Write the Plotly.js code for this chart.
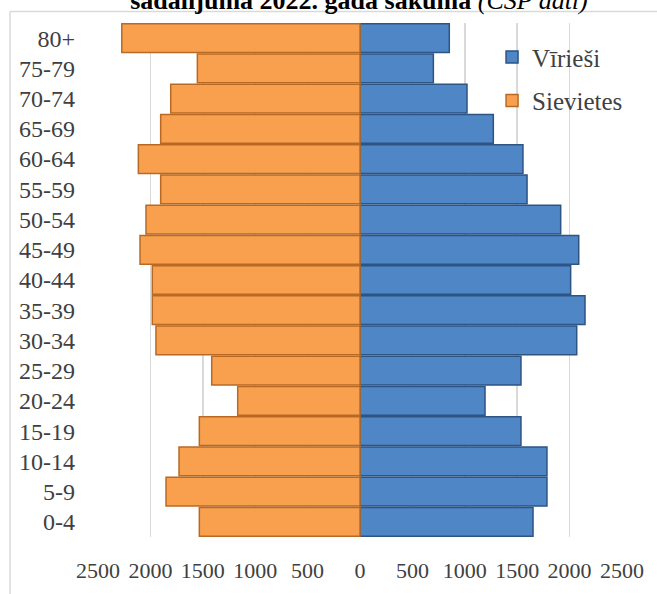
<!DOCTYPE html>
<html><head><meta charset="utf-8">
<script src="https://cdn.plot.ly/plotly-3.0.1.min.js"></script>
<style>html,body{margin:0;padding:0;background:#fff;}#chart{width:657px;height:594px;}</style>
</head><body><div id="chart"></div>
<script>
const ageGroups = ['0-4','5-9','10-14','15-19','20-24','25-29','30-34','35-39','40-44','45-49','50-54','55-59','60-64','65-69','70-74','75-79','80+'];
const men   = [1651,1784,1784,1536,1193,1536,2068,2147,2010,2087,1915,1594,1555,1272,1021,700,852];
const women = [1533,1851,1727,1533,1167,1415,1947,1982,1982,2099,2042,1902,2115,1902,1806,1552,2273];
const xTickVals = [-2500,-2000,-1500,-1000,-500,0,500,1000,1500,2000,2500];
const xTickText = ['2500','2000','1500','1000','500','0','500','1000','1500','2000','2500'];
const titleText = '<b>sadalījumā 2022. gada sākumā</b> <i>(CSP dati)</i>';

const font = '"Liberation Serif", "Times New Roman", serif';
const traces = [
  {type:'bar', orientation:'h', name:'Vīrieši', legendgroup:'m', y:ageGroups, x:men,
   marker:{color:'#4F86C6', line:{color:'#2E5484', width:1.5}}, hoverinfo:'x+y'},
  {type:'bar', orientation:'h', name:'Sievietes', legendgroup:'f', y:ageGroups, x:women.map(v=>-v),
   marker:{color:'#F9A04E', line:{color:'#B86A24', width:1.5}}, hoverinfo:'x+y'}
];
const layout = {
  width:657, height:594,
  margin:{l:98, r:35, t:23, b:57},
  paper_bgcolor:'#fff', plot_bgcolor:'#fff',
  font:{family:font, color:'#404040'},
  barmode:'relative', bargap:0.05,
  title:{text:titleText, x:359/657, xanchor:'center', xref:'container', y:1.0, yref:'container', yanchor:'middle',
         font:{family:font, size:26, color:'#000'}},
  xaxis:{range:[-2500,2500], tickvals:xTickVals, ticktext:xTickText, showgrid:true, gridcolor:'#D9D9D9', gridwidth:1.5,
         zeroline:false, showline:false, ticks:'', tickfont:{family:font, size:22, color:'#404040'}, ticklabelstandoff:18, fixedrange:true},
  yaxis:{type:'category', categoryorder:'array', categoryarray:ageGroups, showgrid:false, zeroline:false, showline:false,
         ticks:'', tickfont:{family:font, size:24, color:'#404040'}, ticklabelstandoff:22, fixedrange:true},
  legend:{x:0.752, y:0.978, xanchor:'left', yanchor:'top', traceorder:'grouped', tracegroupgap:8,
          font:{family:font, size:25, color:'#404040'}, bgcolor:'rgba(0,0,0,0)'},
  shapes:[
    {type:'line', xref:'paper', yref:'paper', x0:(10-98)/524, x1:(10-98)/524, y0:(537-12)/513.6, y1:-0.2, line:{color:'#D9D9D9', width:1.5}},
    {type:'line', xref:'paper', yref:'paper', x0:(10-98)/524, x1:1.2, y0:(537-12)/513.6, y1:(537-12)/513.6, line:{color:'#D9D9D9', width:1.5}}
  ]
};
Plotly.newPlot('chart', traces, layout, {displayModeBar:false, staticPlot:true});
</script>
</body></html>
